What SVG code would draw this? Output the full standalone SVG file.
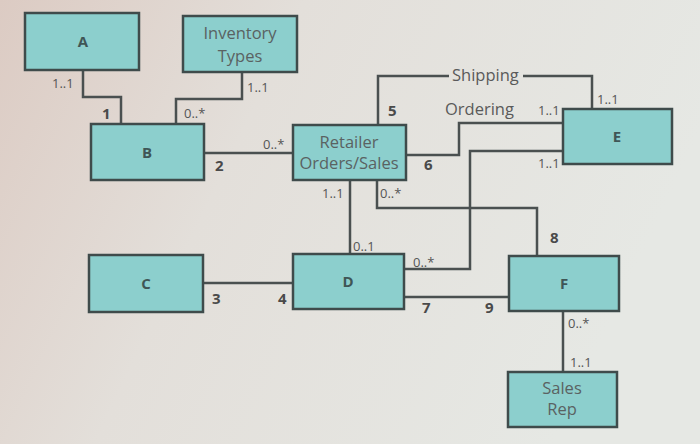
<svg xmlns="http://www.w3.org/2000/svg" width="700" height="444" viewBox="0 0 700 444">
<style>
.box{fill:#8ccfcd;stroke:#3f4b4b;stroke-width:2.5}
.nm{font-family:"Open Sans","Liberation Sans",sans-serif;font-size:16.5px;fill:#5a6262;text-anchor:middle}
.lt{font-family:"Open Sans","Liberation Sans",sans-serif;font-size:15px;font-weight:bold;fill:#3f5656;text-anchor:middle}
.c{font-family:"Open Sans","Liberation Sans",sans-serif;font-size:13px;fill:#555}
.lb{font-family:"Open Sans","Liberation Sans",sans-serif;font-size:16.5px;fill:#5a5a5a}
.n{font-family:"Open Sans","Liberation Sans",sans-serif;font-size:15px;font-weight:bold;fill:#4a4a4a}
.ln{fill:none;stroke:#4a5050;stroke-width:2.5}
</style>
<defs>
<linearGradient id="bg" x1="0" y1="0" x2="1" y2="0.3">
<stop offset="0" stop-color="#dccbc3"/>
<stop offset="0.4" stop-color="#e3dfda"/>
<stop offset="1" stop-color="#e6e8e4"/>
</linearGradient>
</defs>
<rect width="700" height="444" fill="url(#bg)"/>
<g id="connectors">
<path class="ln" d="M83 70V97H121V124"/>
<path class="ln" d="M242 72V99H176V124"/>
<path class="ln" d="M204 153H293"/>
<path class="ln" d="M378 125V76H449M523 76H592V109"/>
<path class="ln" d="M406 155H459V123H563"/>
<path class="ln" d="M563 151H470V269H404"/>
<path class="ln" d="M377 180V208H537V256"/>
<path class="ln" d="M350 180V254"/>
<path class="ln" d="M203 283H293"/>
<path class="ln" d="M404 297H509"/>
<path class="ln" d="M563 311V372"/>
<text class="c" x="52" y="88">1..1</text>
<text class="n" x="102" y="119">1</text>
<text class="c" x="247" y="92">1..1</text>
<text class="c" x="184" y="118">0..*</text>
<text class="n" x="215" y="171">2</text>
<text class="c" x="263" y="149">0..*</text>
<text class="lb" x="452" y="81">Shipping</text>
<text class="n" x="388" y="116">5</text>
<text class="lb" x="445" y="115">Ordering</text>
<text class="c" x="538" y="115">1..1</text>
<text class="c" x="597" y="104">1..1</text>
<text class="n" x="424" y="170">6</text>
<text class="c" x="538" y="168">1..1</text>
<text class="c" x="322" y="198">1..1</text>
<text class="c" x="380" y="198">0..*</text>
<text class="c" x="353" y="251">0..1</text>
<text class="c" x="413" y="267">0..*</text>
<text class="n" x="550" y="243">8</text>
<text class="n" x="212" y="304">3</text>
<text class="n" x="278" y="304">4</text>
<text class="n" x="422" y="313">7</text>
<text class="n" x="485" y="313">9</text>
<text class="c" x="568" y="328">0..*</text>
<text class="c" x="570" y="367">1..1</text>
</g>
<g id="A"><rect class="box" x="25" y="13" width="114" height="57"/><text class="lt" x="83" y="47">A</text></g>
<g id="InventoryTypes"><rect class="box" x="183" y="16" width="114" height="56"/><text class="nm" x="240" y="39">Inventory</text><text class="nm" x="240" y="62">Types</text></g>
<g id="B"><rect class="box" x="91" y="124" width="113" height="56"/><text class="lt" x="147" y="158">B</text></g>
<g id="Retailer"><rect class="box" x="293" y="125" width="113" height="55"/><text class="nm" x="349" y="148">Retailer</text><text class="nm" x="349" y="169">Orders/Sales</text></g>
<g id="E"><rect class="box" x="563" y="109" width="109" height="55"/><text class="lt" x="617" y="142">E</text></g>
<g id="C"><rect class="box" x="89" y="255" width="114" height="57"/><text class="lt" x="146" y="289">C</text></g>
<g id="D"><rect class="box" x="293" y="254" width="111" height="55"/><text class="lt" x="348" y="287">D</text></g>
<g id="F"><rect class="box" x="509" y="256" width="110" height="55"/><text class="lt" x="564" y="289">F</text></g>
<g id="SalesRep"><rect class="box" x="508" y="372" width="109" height="55"/><text class="nm" x="562" y="394">Sales</text><text class="nm" x="562" y="415">Rep</text></g>
</svg>
